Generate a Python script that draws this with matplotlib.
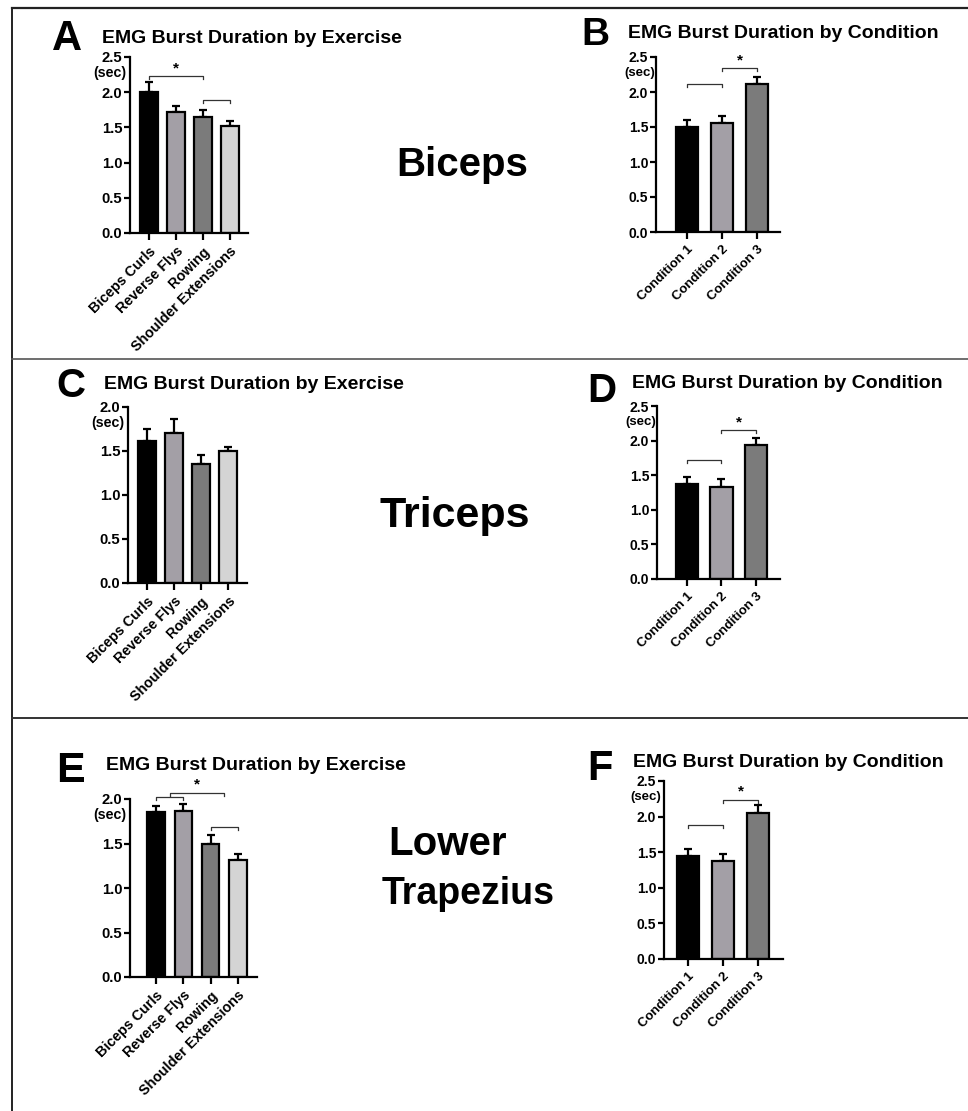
import matplotlib.pyplot as plt
import numpy as np

plt.rcParams['font.family'] = ['Liberation Sans', 'DejaVu Sans']
plt.rcParams['font.weight'] = 'bold'

W, H = 968, 1111

exercises = ['Biceps Curls', 'Reverse Flys', 'Rowing', 'Shoulder Extensions']
conditions = ['Condition 1', 'Condition 2', 'Condition 3']

exercise_colors = ['#000000', '#a39fa6', '#7b7b7b', '#d4d4d4']
condition_colors = ['#000000', '#a39fa6', '#7b7b7b']

# EMG burst duration (sec), mean and upper SEM
biceps_ex_mean = [2.00, 1.72, 1.65, 1.52]
biceps_ex_err = [0.14, 0.08, 0.10, 0.07]
biceps_cond_mean = [1.50, 1.56, 2.11]
biceps_cond_err = [0.10, 0.10, 0.11]

triceps_ex_mean = [1.61, 1.70, 1.35, 1.50]
triceps_ex_err = [0.14, 0.16, 0.11, 0.05]
triceps_cond_mean = [1.37, 1.33, 1.93]
triceps_cond_err = [0.11, 0.11, 0.11]

trap_ex_mean = [1.85, 1.86, 1.49, 1.31]
trap_ex_err = [0.07, 0.08, 0.11, 0.07]
trap_cond_mean = [1.45, 1.37, 2.05]
trap_cond_err = [0.10, 0.10, 0.11]

# significance brackets: (from, to, height, label)
brackets_a = [(0, 2, 2.23, '*'), (2, 3, 1.89, '')]
brackets_b = [(0, 1, 2.11, ''), (1, 2, 2.34, '*')]
brackets_c = []
brackets_d = [(0, 1, 1.72, ''), (1, 2, 2.15, '*')]
brackets_e = [(0, 1, 2.02, ''), (0.5, 2.5, 2.07, '*'), (2, 3, 1.69, '')]
brackets_f = [(0, 1, 1.88, ''), (1, 2, 2.24, '*')]

panel_letters = ['A', 'B', 'C', 'D', 'E', 'F']
title_ex = 'EMG Burst Duration by Exercise'
title_cond = 'EMG Burst Duration by Condition'
muscles = ['Biceps', 'Triceps', 'Lower', 'Trapezius']


fig = plt.figure(figsize=(W / 100, H / 100), dpi=100)


def px_axes(x0, x1, y0, ytop):
    return fig.add_axes([x0 / W, 1 - y0 / H, (x1 - x0) / W, (y0 - ytop) / H])


def ftext(x, y, s, **kw):
    fig.text(x / W, 1 - y / H, s, **kw)


def draw_panel(ax, labels, means, errs, colors, ymax, xlim, brackets, fs=10.5, sec_dx=-2.5):
    x = np.arange(len(labels))
    ax.errorbar(x, means, yerr=[np.zeros(len(x)), errs], fmt='none', ecolor='black',
                elinewidth=1.6, capsize=3.2, capthick=1.6, zorder=1)
    ax.bar(x, means, width=0.64, color=colors, edgecolor='black', linewidth=1.6, zorder=2)
    ax.set_xlim(*xlim)
    ax.set_ylim(0, ymax)
    ticks = np.arange(0, ymax + 0.01, 0.5)
    ax.set_yticks(ticks)
    ax.set_yticklabels([f'{v:.1f}' for v in ticks])
    ax.set_xticks(x)
    ax.set_xticklabels(labels, rotation=45, ha='right', va='top', rotation_mode='anchor')
    for s in ['top', 'right']:
        ax.spines[s].set_visible(False)
    for s in ['left', 'bottom']:
        ax.spines[s].set_linewidth(1.6)
    ax.tick_params(axis='y', width=1.6, length=4, labelsize=fs + 0.5, pad=1.5)
    ax.tick_params(axis='x', width=1.6, length=5, labelsize=fs, pad=3)
    for lab in ax.get_xticklabels() + ax.get_yticklabels():
        lab.set_fontweight('bold')
    ax.patch.set_visible(False)
    ax.annotate('(sec)', xy=(0, ymax), xycoords=('axes fraction', 'data'),
                xytext=(sec_dx, -11.5), textcoords='offset points', ha='right', va='center',
                fontsize=fs, fontweight='bold')
    d = 0.017 * ymax
    for x1, x2, y, lab in brackets:
        ax.plot([x1, x1, x2, x2], [y - d, y, y, y - d], color='#333333', lw=0.9,
                clip_on=False, zorder=3)
        if lab:
            ax.text((x1 + x2) / 2, y + 0.005 * ymax, lab, ha='center', va='bottom',
                    fontsize=11, fontweight='bold')


# panel frames
fig.add_artist(plt.Line2D([12 / W, 1], [1 - 8 / H, 1 - 8 / H], color='#222222', lw=1.6))
fig.add_artist(plt.Line2D([12 / W, 12 / W], [1 - 8 / H, 0], color='#222222', lw=1.4))
fig.add_artist(plt.Line2D([12 / W, 1], [1 - 359 / H, 1 - 359 / H], color='#555555', lw=1.2))
fig.add_artist(plt.Line2D([12 / W, 1], [1 - 718 / H, 1 - 718 / H], color='#333333', lw=1.4))

ax_a = px_axes(130, 248, 233, 57)
draw_panel(ax_a, exercises, biceps_ex_mean, biceps_ex_err, exercise_colors, 2.5,
           (-0.70, 3.67), brackets_a, fs=10.25)
ax_b = px_axes(656, 780, 232, 57)
draw_panel(ax_b, conditions, biceps_cond_mean, biceps_cond_err, condition_colors, 2.5,
           (-0.89, 2.66), brackets_b, fs=9.5, sec_dx=-0.5)
ax_c = px_axes(128, 247, 583, 407)
draw_panel(ax_c, exercises, triceps_ex_mean, triceps_ex_err, exercise_colors, 2.0,
           (-0.70, 3.70), brackets_c, fs=10.25)
ax_d = px_axes(657, 780, 579, 406)
draw_panel(ax_d, conditions, triceps_cond_mean, triceps_cond_err, condition_colors, 2.5,
           (-0.86, 2.69), brackets_d, fs=9.5, sec_dx=-0.5)
ax_e = px_axes(130, 257, 977, 799)
draw_panel(ax_e, exercises, trap_ex_mean, trap_ex_err, exercise_colors, 2.0,
           (-0.95, 3.70), brackets_e, fs=10.25)
ax_f = px_axes(664, 783, 959, 781)
draw_panel(ax_f, conditions, trap_cond_mean, trap_cond_err, condition_colors, 2.5,
           (-0.69, 2.71), brackets_f, fs=9.5, sec_dx=-2)

# panel letters and titles
letter_pos = [(52, 50, 30), (581, 45, 28), (56, 397, 29), (587, 402, 29), (56, 782, 31), (587, 780, 30)]
title_pos = [(102, 43), (628, 38), (104, 389), (632, 388), (106, 770), (633, 767)]
for i, letter in enumerate(panel_letters):
    lx, ly, ls = letter_pos[i]
    ftext(lx, ly, letter, fontsize=ls, fontweight='bold', ha='left', va='baseline')
    tx, ty = title_pos[i]
    ftext(tx, ty, title_ex if i % 2 == 0 else title_cond, fontsize=14, fontweight='bold',
          ha='left', va='baseline')

# muscle names
muscle_style = [(396, 176, 29), (379, 527, 31), (388, 855, 29), (382, 904, 27)]
for name, (mx, my, ms) in zip(muscles, muscle_style):
    ftext(mx, my, name, fontsize=ms, fontweight='bold', ha='left', va='baseline')

fig.savefig('out.png', dpi=100)
